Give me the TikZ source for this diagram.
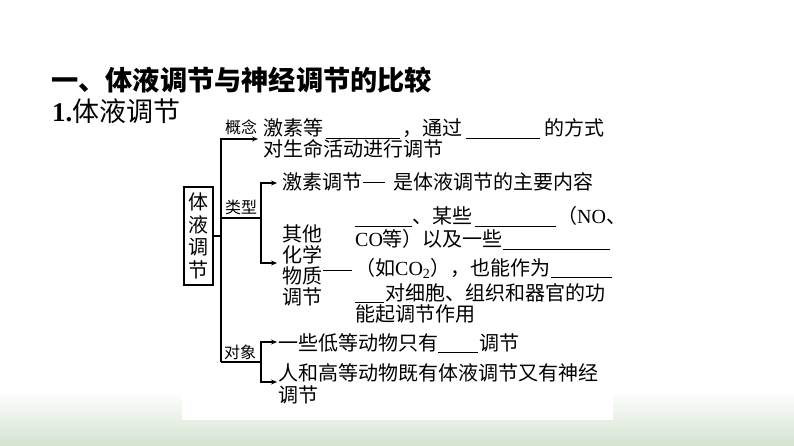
\documentclass[tikz,border=0pt]{standalone}
\usepackage{fontspec}
\setmainfont{Liberation Serif}
\newfontfamily\cjk{Noto Sans CJK SC}
\usetikzlibrary{arrows.meta}
\definecolor{gbot}{RGB}{212,227,208}
\newcommand{\myblank}[1]{\rule[-3pt]{#1pt}{0.8pt}}
\newcommand{\lat}[1]{{\rmfamily #1}}
\begin{document}
\begin{tikzpicture}[x=1pt,y=-1pt,
  txt/.style={anchor=base west,inner sep=0pt,font=\cjk\fontsize{20}{23}\selectfont},
  lbl/.style={anchor=base west,inner sep=0pt,font=\cjk\fontsize{16}{18}\selectfont},
  ln/.style={line width=1.1pt},
  arr/.style={line width=1.1pt,-{Stealth[length=6pt,width=5pt]}}]
\useasboundingbox (0,0) rectangle (794,446);
\shade[top color=white,bottom color=gbot] (0,390) rectangle (794,446);
\fill[white] (182,380) rectangle (613,419.5);
% headings
\node[anchor=base west,inner sep=0pt,font=\cjk\bfseries\fontsize{27.2}{30}\selectfont] (title) at (51,91) {一、体液调节与神经调节的比较};
\node[anchor=base west,inner sep=0pt,font=\cjk\fontsize{27}{30}\selectfont] (sub) at (52,121.5) {\textbf{\lat{1.}}体液调节};
% root box
\node[draw,line width=1.1pt,minimum width=29pt,minimum height=98pt,inner sep=0pt,align=center,
      font=\cjk\fontsize{20}{22.5}\selectfont] (box) at (198.5,236) {体\\液\\调\\节};
% tree coordinates
\coordinate (trunkbot) at (221,362);
\coordinate (gntip) at (258,139);
\coordinate (lxj) at (261,218);
\coordinate (lx1tip) at (277,183);
\coordinate (lx2tip) at (277,263);
\coordinate (dxj) at (261,362);
\coordinate (dx1tip) at (277,342);
\coordinate (dx2tip) at (277,382);
% labels
\node[lbl] (gn) at (225,134) {概念};
\node[lbl] (lx) at (225,214) {类型};
\node[lbl] (dx) at (224,358.5) {对象};
% texts
\node[txt] (a1) at (263,136) {激素等\hspace{3pt}\myblank{74}\hspace{2pt}，通过\hspace{4pt}\myblank{74}\hspace{4pt}的方式};
\node[txt] (a2) at (263,157) {对生命活动进行调节};
\node[txt] (b1) at (282,190) {激素调节\hspace{1pt}\rule[7.5pt]{22pt}{0.8pt}\hspace{8pt}是体液调节的主要内容};
\node[anchor=west,inner sep=0pt,align=left,font=\cjk\fontsize{20}{21}\selectfont] (qt) at (282,265) {其他\\化学\\物质\\调节};
\node[anchor=west,inner sep=0pt] (dash) at (323,270) {\rule{29pt}{0.8pt}};
\node[txt] (p1) at (355,224) {\myblank{57}、某些\hspace{3pt}\myblank{81}\hspace{1pt}（\lat{NO}、};
\node[txt] (p2) at (355,247) {\lat{CO}等）以及一些\myblank{107}};
\node[txt] (p3) at (355,275) {（如\lat{CO\textsubscript{2}}），也能作为\hspace{1pt}\myblank{61}};
\node[txt] (p4) at (355,300) {\myblank{29}\hspace{1pt}对细胞、组织和器官的功};
\node[txt] (p5) at (355,321) {能起调节作用};
\node[txt] (c1) at (278,350) {一些低等动物只有\myblank{40}\hspace{1pt}调节};
\node[txt] (c2) at (278,380) {人和高等动物既有体液调节又有神经};
\node[txt] (c3) at (278,402) {调节};
% connectors
\draw[arr] (trunkbot) |- (gntip);
\draw[ln] (box.east) -- (box.east -| trunkbot);
\draw[ln] (lxj -| trunkbot) -- (lxj);
\draw[arr] (lxj) |- (lx1tip);
\draw[arr] (lxj) |- (lx2tip);
\draw[ln] (trunkbot) -- (dxj);
\draw[arr] (dxj) |- (dx1tip);
\draw[arr] (dxj) |- (dx2tip);
\end{tikzpicture}
\end{document}
